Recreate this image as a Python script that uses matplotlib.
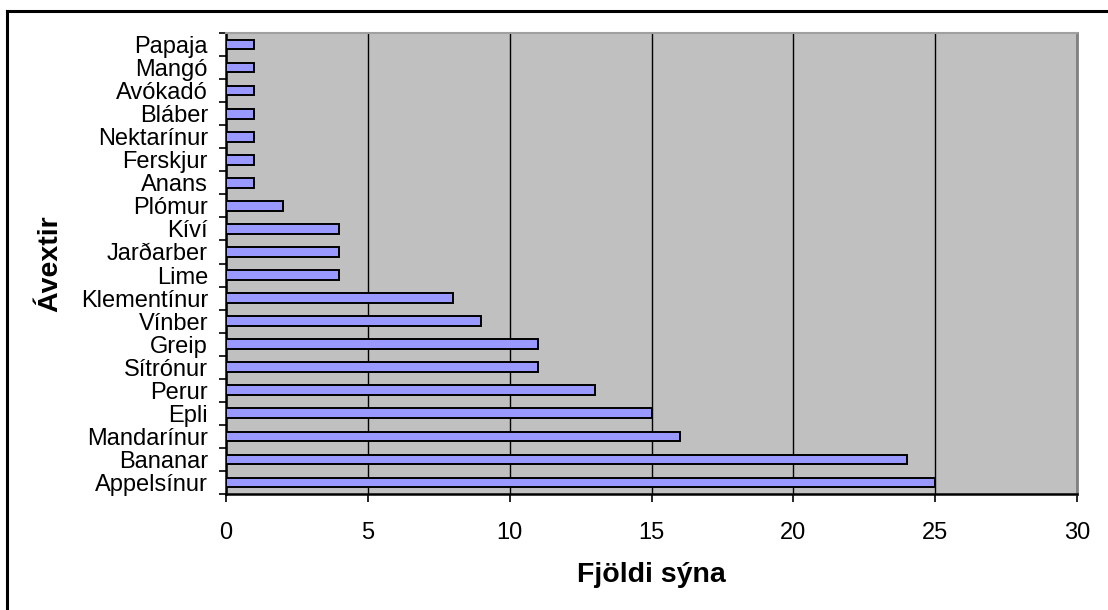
import matplotlib
matplotlib.use("Agg")
import matplotlib.pyplot as plt
from matplotlib.lines import Line2D

# Fruit categories (bottom to top) and number of samples
fruits = ["Appelsínur", "Bananar", "Mandarínur", "Epli", "Perur", "Sítrónur",
          "Greip", "Vínber", "Klementínur", "Lime", "Jarðarber", "Kíví",
          "Plómur", "Anans", "Ferskjur", "Nektarínur", "Bláber", "Avókadó",
          "Mangó", "Papaja"]
counts = [25, 24, 16, 15, 13, 11, 11, 9, 8, 4, 4, 4, 2, 1, 1, 1, 1, 1, 1, 1]
x_ticks = [0, 5, 10, 15, 20, 25, 30]

plt.rcParams["font.family"] = ["Liberation Sans", "DejaVu Sans"]

fig = plt.figure(figsize=(11.08, 6.10), dpi=100)
ax = fig.add_axes([226 / 1108, 1 - 494 / 610, (1077 - 226) / 1108, (494 - 33) / 610])

ax.set_facecolor("#C0C0C0")
ypos = list(range(len(fruits)))
ax.barh(ypos, counts, height=0.42, color="#9999FF", edgecolor="black",
        linewidth=1.4, zorder=3)

ax.set_xlim(0, 30)
ax.set_ylim(-0.5, len(fruits) - 0.5)
ax.set_xticks(x_ticks)
ax.set_xticklabels([str(t) for t in x_ticks], fontsize=17)
ax.xaxis.grid(True, color="black", linewidth=1.0, zorder=1)
ax.set_axisbelow(True)

# Category labels centred on bars, tick marks between categories
ax.set_yticks(ypos)
ax.set_yticklabels(fruits, fontsize=17)
ax.tick_params(axis="y", which="major", length=0, pad=13)
ax.set_yticks([i - 0.5 for i in range(len(fruits) + 1)], minor=True)
ax.tick_params(axis="y", which="minor", length=5, width=1.2, direction="out")
ax.tick_params(axis="x", length=6, width=1.2, direction="out", pad=14)

for side in ("left", "bottom"):
    ax.spines[side].set_color("black")
    ax.spines[side].set_linewidth(1.8)
ax.spines["top"].set_color("#A0A0A0")
ax.spines["top"].set_linewidth(1.5)
ax.spines["right"].set_color("#808080")
ax.spines["right"].set_linewidth(2.0)

ax.set_xlabel("Fjöldi sýna", fontsize=20.5, fontweight="bold", labelpad=13)
ax.set_ylabel("Ávextir", fontsize=20.5, fontweight="bold")
ax.yaxis.set_label_coords((63 - 226) / 851, 0.5)

# Chart-area frame (top and left edges visible)
fig.add_artist(Line2D([7 / 1108, 7 / 1108], [0, 1 - 11 / 610],
                      transform=fig.transFigure, color="black", linewidth=2.2))
fig.add_artist(Line2D([7 / 1108, 1], [1 - 11 / 610, 1 - 11 / 610],
                      transform=fig.transFigure, color="black", linewidth=2.2))

fig.savefig("out.png", dpi=100)
